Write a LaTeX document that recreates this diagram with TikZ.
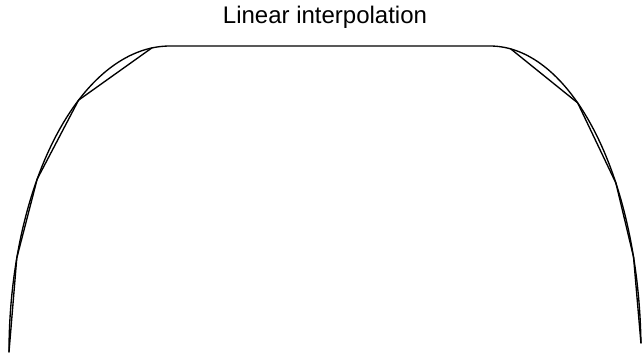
\documentclass[tikz,border=0pt]{standalone}
\usepackage{fontspec}
\setmainfont{Liberation Sans}
\begin{document}
\begin{tikzpicture}[x=1pt,y=-1pt,
  curveline/.style={line width=1.35pt,black,line join=round,line cap=round}]
\useasboundingbox (0,0) rectangle (642,356);
\node[font=\fontsize{24}{28}\selectfont] (title) at (325,17) {Linear interpolation};
% left quarter ellipse: centre (170,352), radii 161 x 306
\coordinate (p1) at ({170+161*cos(180)},{352-306*sin(180)});
\coordinate (p2) at ({170+161*cos(162.1)},{352-306*sin(162.1)});
\coordinate (p3) at ({170+161*cos(145.6)},{352-306*sin(145.6)});
\coordinate (p4) at ({170+161*cos(124.6)},{352-306*sin(124.6)});
\coordinate (p5) at ({170+161*cos(96.5)},{352-306*sin(96.5)});
% right quarter ellipse: centre (490,352), radii 151 x 306
\coordinate (q5) at ({490+151*cos(82.1)},{352-306*sin(82.1)});
\coordinate (q4) at ({490+151*cos(54.5)},{352-306*sin(54.5)});
\coordinate (q3) at ({490+151*cos(33.5)},{352-306*sin(33.5)});
\coordinate (q2) at ({490+151*cos(18.1)},{352-306*sin(18.1)});
\coordinate (q1) at ({490+151*cos(1.7)},{352-306*sin(1.7)});
% smooth curve
\draw[curveline] plot[domain=180:90,samples=90,smooth] ({170+161*cos(\x)},{352-306*sin(\x)})
  -- plot[domain=90:1.7,samples=90,smooth] ({490+151*cos(\x)},{352-306*sin(\x)});
% linear interpolation
\draw[curveline] (p1) -- (p2) -- (p3) -- (p4) -- (p5);
\draw[curveline] (q5) -- (q4) -- (q3) -- (q2) -- (q1);
\end{tikzpicture}
\end{document}
